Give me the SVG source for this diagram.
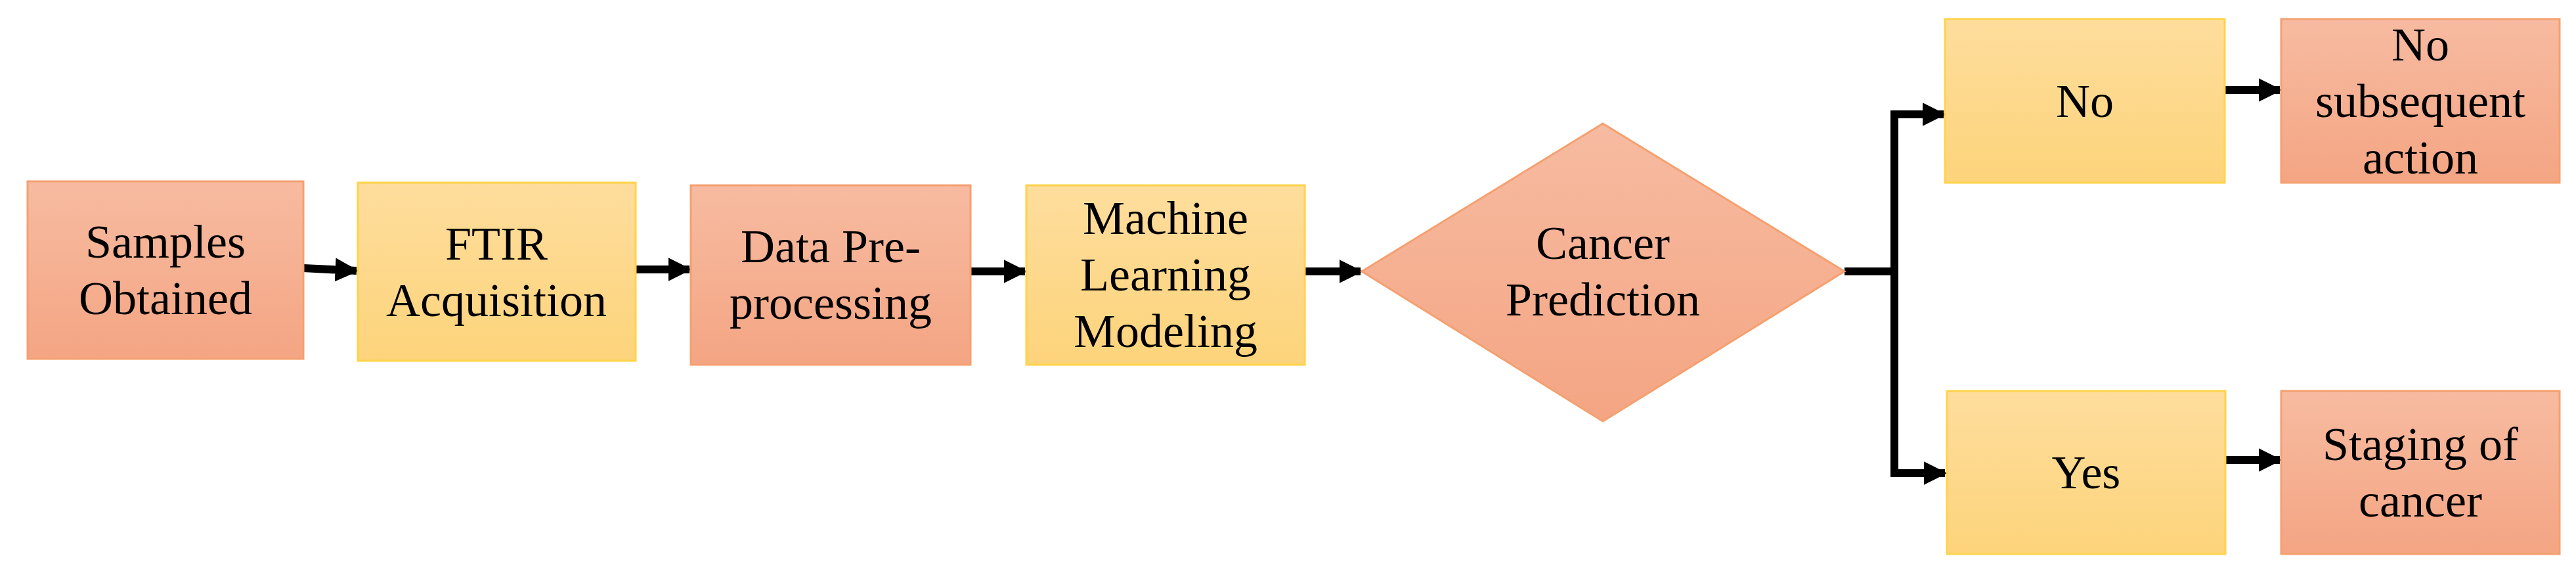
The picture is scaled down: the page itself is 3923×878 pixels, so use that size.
<svg xmlns="http://www.w3.org/2000/svg" width="3923" height="878" viewBox="0 0 3923 878">
<defs>
<linearGradient id="gs" x1="0" y1="0" x2="0" y2="1"><stop offset="0" stop-color="#F7BBA1"/><stop offset="1" stop-color="#F4A583"/></linearGradient>
<linearGradient id="gy" x1="0" y1="0" x2="0" y2="1"><stop offset="0" stop-color="#FEDD9D"/><stop offset="1" stop-color="#FDD47B"/></linearGradient>
<marker id="ah" viewBox="0 0 10 10" refX="9" refY="5" markerWidth="3" markerHeight="3.6" markerUnits="strokeWidth" orient="auto"><path d="M0,0 L10,5 L0,10 z" fill="#000"/></marker>
<style>
.s{fill:url(#gs);stroke:#F4A070;stroke-width:3}
.y{fill:url(#gy);stroke:#FFD34A;stroke-width:3}
text{font-family:"Liberation Serif","Times New Roman",serif;font-size:72px;fill:#000;text-anchor:middle}
.c{fill:none;stroke:#000;stroke-width:12}
</style>
</defs>
<g id="connectors">
<line class="c" x1="462" y1="408" x2="543" y2="412" marker-end="url(#ah)"/>
<line class="c" x1="968" y1="410" x2="1050" y2="410" marker-end="url(#ah)"/>
<line class="c" x1="1478" y1="413" x2="1561" y2="413" marker-end="url(#ah)"/>
<line class="c" x1="1987" y1="413" x2="2072" y2="413" marker-end="url(#ah)"/>
<path class="c" d="M2809,413 H2885"/>
<path class="c" d="M2885,174 V720"/>
<path class="c" d="M2879,174 H2960" marker-end="url(#ah)"/>
<path class="c" d="M2879,720 H2962" marker-end="url(#ah)"/>
<line class="c" x1="3388" y1="137" x2="3472" y2="137" marker-end="url(#ah)"/>
<line class="c" x1="3389" y1="700" x2="3472" y2="700" marker-end="url(#ah)"/>
</g>
<g id="samples"><rect class="s" x="42" y="276" width="420" height="270"/><text x="252" y="392">Samples</text><text x="252" y="478">Obtained</text></g>
<g id="ftir"><rect class="y" x="545" y="278" width="423" height="271"/><text x="756" y="395">FTIR</text><text x="756" y="481">Acquisition</text></g>
<g id="data"><rect class="s" x="1052" y="282" width="426" height="273"/><text x="1265" y="399">Data Pre-</text><text x="1265" y="485">processing</text></g>
<g id="ml"><rect class="y" x="1563" y="282" width="424" height="273"/><text x="1775" y="356">Machine</text><text x="1775" y="442">Learning</text><text x="1775" y="528">Modeling</text></g>
<g id="cancer"><polygon class="s" points="2441,188 2809,413 2441,641 2074,413"/><text x="2441" y="394">Cancer</text><text x="2441" y="480">Prediction</text></g>
<g id="no"><rect class="y" x="2962" y="29" width="426" height="249"/><text x="3175" y="178">No</text></g>
<g id="noaction"><rect class="s" x="3474" y="29" width="424" height="249"/><text x="3686" y="92">No</text><text x="3686" y="178">subsequent</text><text x="3686" y="264">action</text></g>
<g id="yes"><rect class="y" x="2965" y="595" width="424" height="248"/><text x="3177" y="743">Yes</text></g>
<g id="staging"><rect class="s" x="3474" y="595" width="424" height="248"/><text x="3686" y="700">Staging of</text><text x="3686" y="786">cancer</text></g>
</svg>
